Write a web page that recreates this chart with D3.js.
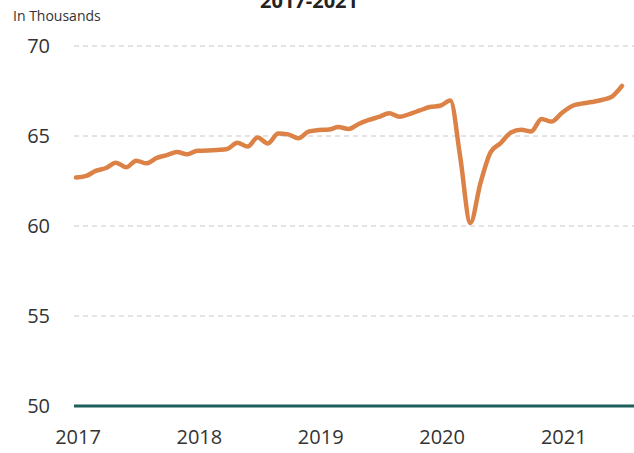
<!DOCTYPE html>
<html>
<head>
<meta charset="utf-8">
<script src="https://cdn.jsdelivr.net/npm/d3@7"></script>
<style>
  body { margin: 0; background: #fff; }
  text { font-family: "Open Sans", sans-serif; }
</style>
</head>
<body>
<div id="chart"></div>
<script>
// monthly values, Jan 2017 .. Jul 2021 (thousands)
const startMonth = new Date(2017, 0, 1);
const values = [
  62.69, 62.78, 63.06, 63.22, 63.52, 63.26, 63.63, 63.48, 63.78, 63.94, 64.11, 63.98,
  64.18, 64.19, 64.22, 64.28, 64.63, 64.41, 64.91, 64.59, 65.14, 65.09, 64.87, 65.24,
  65.33, 65.36, 65.50, 65.39, 65.67, 65.89, 66.06, 66.26, 66.07, 66.22, 66.42, 66.61,
  66.68, 66.97, 63.90, 60.17, 62.36, 64.10, 64.60, 65.20, 65.35, 65.25, 65.95, 65.80,
  66.28, 66.67, 66.80, 66.89, 67.00, 67.19, 67.78
];
const yTicks = [50, 55, 60, 65, 70];
const xTickYears = [2017, 2018, 2019, 2020, 2021];
const title = "2017-2021";
const unitLabel = "In Thousands";

const data = values.map(function (v, i) {
  return { date: new Date(2017, i, 1), value: v };
});

const width = 634, height = 453;
const svg = d3.select('#chart').append('svg')
  .attr('width', width)
  .attr('height', height);

const x = d3.scaleTime()
  .domain([startMonth, new Date(2021, 6, 1)])
  .range([76, 622]);
const y = d3.scaleLinear()
  .domain([50, 70])
  .range([406, 46]);

// title, mostly cut off by the top edge
svg.append('text')
  .attr('x', 309)
  .attr('y', 8)
  .attr('text-anchor', 'middle')
  .style('font-size', '20px')
  .style('font-weight', 'bold')
  .style('fill', '#222')
  .text(title);

svg.append('text')
  .attr('x', 13)
  .attr('y', 21)
  .style('font-size', '14px')
  .style('fill', '#333')
  .text(unitLabel);

// grid lines
svg.selectAll('.grid')
  .data(yTicks.filter(function (d) { return d !== 50; }))
  .enter().append('line')
  .attr('class', 'grid')
  .attr('x1', 74)
  .attr('x2', width)
  .attr('y1', function (d) { return y(d); })
  .attr('y2', function (d) { return y(d); })
  .style('stroke', '#c8c8c8')
  .style('stroke-width', 1)
  .style('stroke-dasharray', '5,4');

// y labels
svg.selectAll('.ylab')
  .data(yTicks)
  .enter().append('text')
  .attr('class', 'ylab')
  .attr('x', 50)
  .attr('y', function (d) { return y(d); })
  .attr('dy', '0.35em')
  .attr('text-anchor', 'end')
  .style('font-size', '20px')
  .style('fill', '#333')
  .text(function (d) { return d; });

// x labels
svg.selectAll('.xlab')
  .data(xTickYears)
  .enter().append('text')
  .attr('class', 'xlab')
  .attr('x', function (d) { return x(new Date(d, 0, 1)) + 2; })
  .attr('y', 444)
  .attr('text-anchor', 'middle')
  .style('font-size', '20px')
  .style('fill', '#333')
  .text(function (d) { return d; });

// baseline
svg.append('line')
  .attr('x1', 74)
  .attr('x2', width)
  .attr('y1', y(50))
  .attr('y2', y(50))
  .style('stroke', '#1d5e5a')
  .style('stroke-width', 3);

const line = d3.line()
  .x(function (d) { return x(d.date); })
  .y(function (d) { return y(d.value); })
  .curve(d3.curveMonotoneX);

svg.append('path')
  .datum(data)
  .attr('d', line)
  .style('fill', 'none')
  .style('stroke', '#dc8247')
  .style('stroke-width', 4.5)
  .style('stroke-linecap', 'round')
  .style('stroke-linejoin', 'round');
</script>
</body>
</html>
